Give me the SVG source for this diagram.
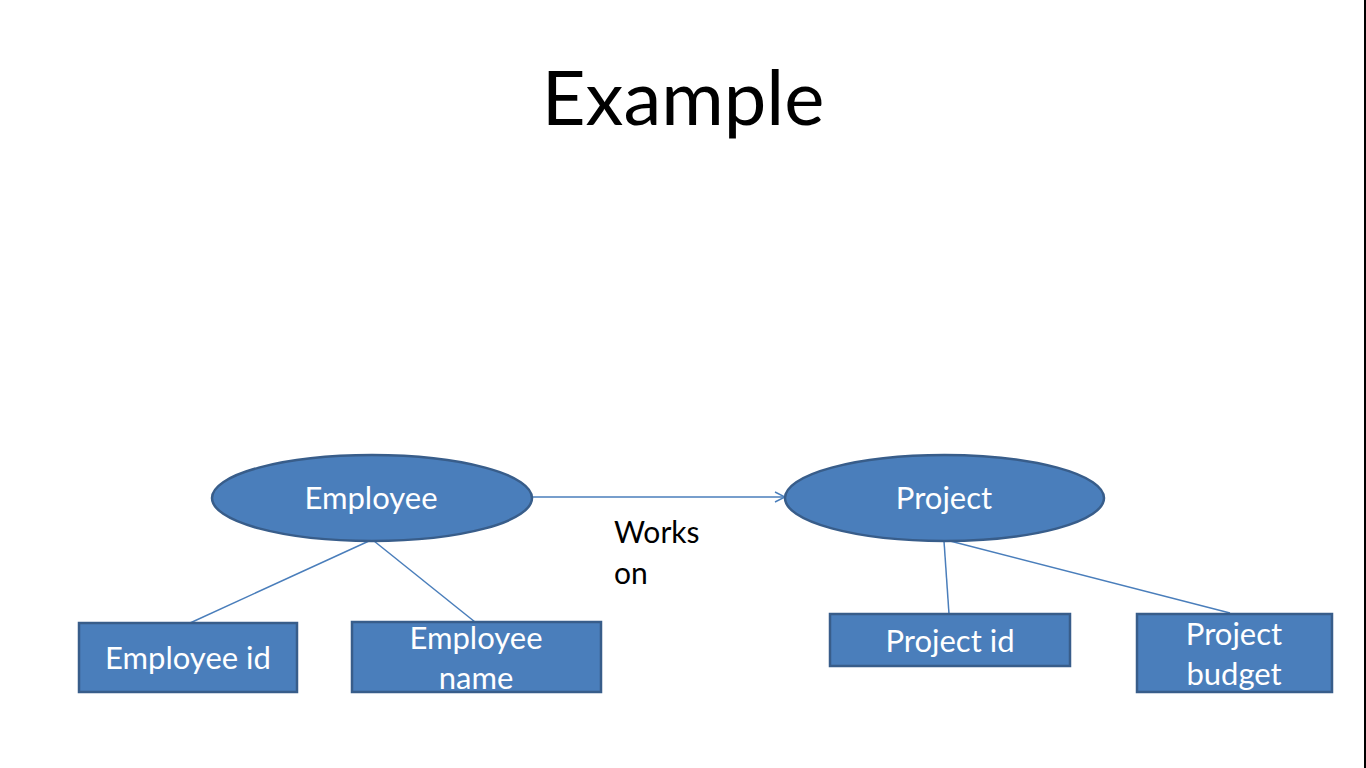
<svg xmlns="http://www.w3.org/2000/svg" width="1366" height="768" viewBox="0 0 1366 768">
<defs>
<style>
.shape{fill:#4a7ebb;stroke:#385d8a;stroke-width:2.5}
.lbl{font-family:Lato,"Open Sans","Liberation Sans",sans-serif;font-size:31px;fill:#ffffff;text-anchor:middle}
.conn{stroke:#4a7ebb;stroke-width:1.5;fill:none}
.blk{font-family:Lato,"Open Sans","Liberation Sans",sans-serif;fill:#000000}
</style>
<marker id="open" viewBox="0 0 12 12" refX="11" refY="6" markerWidth="12" markerHeight="12" markerUnits="userSpaceOnUse" orient="auto">
<path d="M1,1 L11,6 L1,11" fill="none" stroke="#4a7ebb" stroke-width="1.4"/>
</marker>
</defs>
<rect x="0" y="0" width="1366" height="768" fill="#ffffff"/>
<rect x="1364" y="0" width="2" height="768" fill="#000000"/>
<text class="blk" x="683" y="125" font-size="76" text-anchor="middle">Example</text>
<g id="connectors">
<line class="conn" x1="533" y1="497" x2="785" y2="497" marker-end="url(#open)"/>
<line class="conn" x1="369" y1="541" x2="190" y2="623"/>
<line class="conn" x1="374" y1="541" x2="475" y2="622"/>
<line class="conn" x1="944" y1="541" x2="949" y2="614"/>
<line class="conn" x1="950" y1="541" x2="1230" y2="613"/>
</g>
<g id="works-on">
<text class="blk" x="614" y="543" font-size="30">Works</text>
<text class="blk" x="614" y="584" font-size="30">on</text>
</g>
<g id="employee">
<ellipse class="shape" cx="372" cy="498" rx="160" ry="43"/>
<text class="lbl" x="371" y="509">Employee</text>
</g>
<g id="project">
<ellipse class="shape" cx="944.5" cy="498" rx="159.5" ry="43"/>
<text class="lbl" x="944" y="509">Project</text>
</g>
<g id="employee-id">
<rect class="shape" x="79" y="623" width="218" height="69"/>
<text class="lbl" x="188" y="669">Employee id</text>
</g>
<g id="employee-name">
<rect class="shape" x="352" y="622" width="249" height="70"/>
<text class="lbl" x="476" y="649">Employee</text>
<text class="lbl" x="476" y="689">name</text>
</g>
<g id="project-id">
<rect class="shape" x="830" y="614" width="240" height="52"/>
<text class="lbl" x="950" y="652">Project id</text>
</g>
<g id="project-budget">
<rect class="shape" x="1137" y="614" width="195" height="78"/>
<text class="lbl" x="1234" y="645">Project</text>
<text class="lbl" x="1234" y="685">budget</text>
</g>
</svg>
